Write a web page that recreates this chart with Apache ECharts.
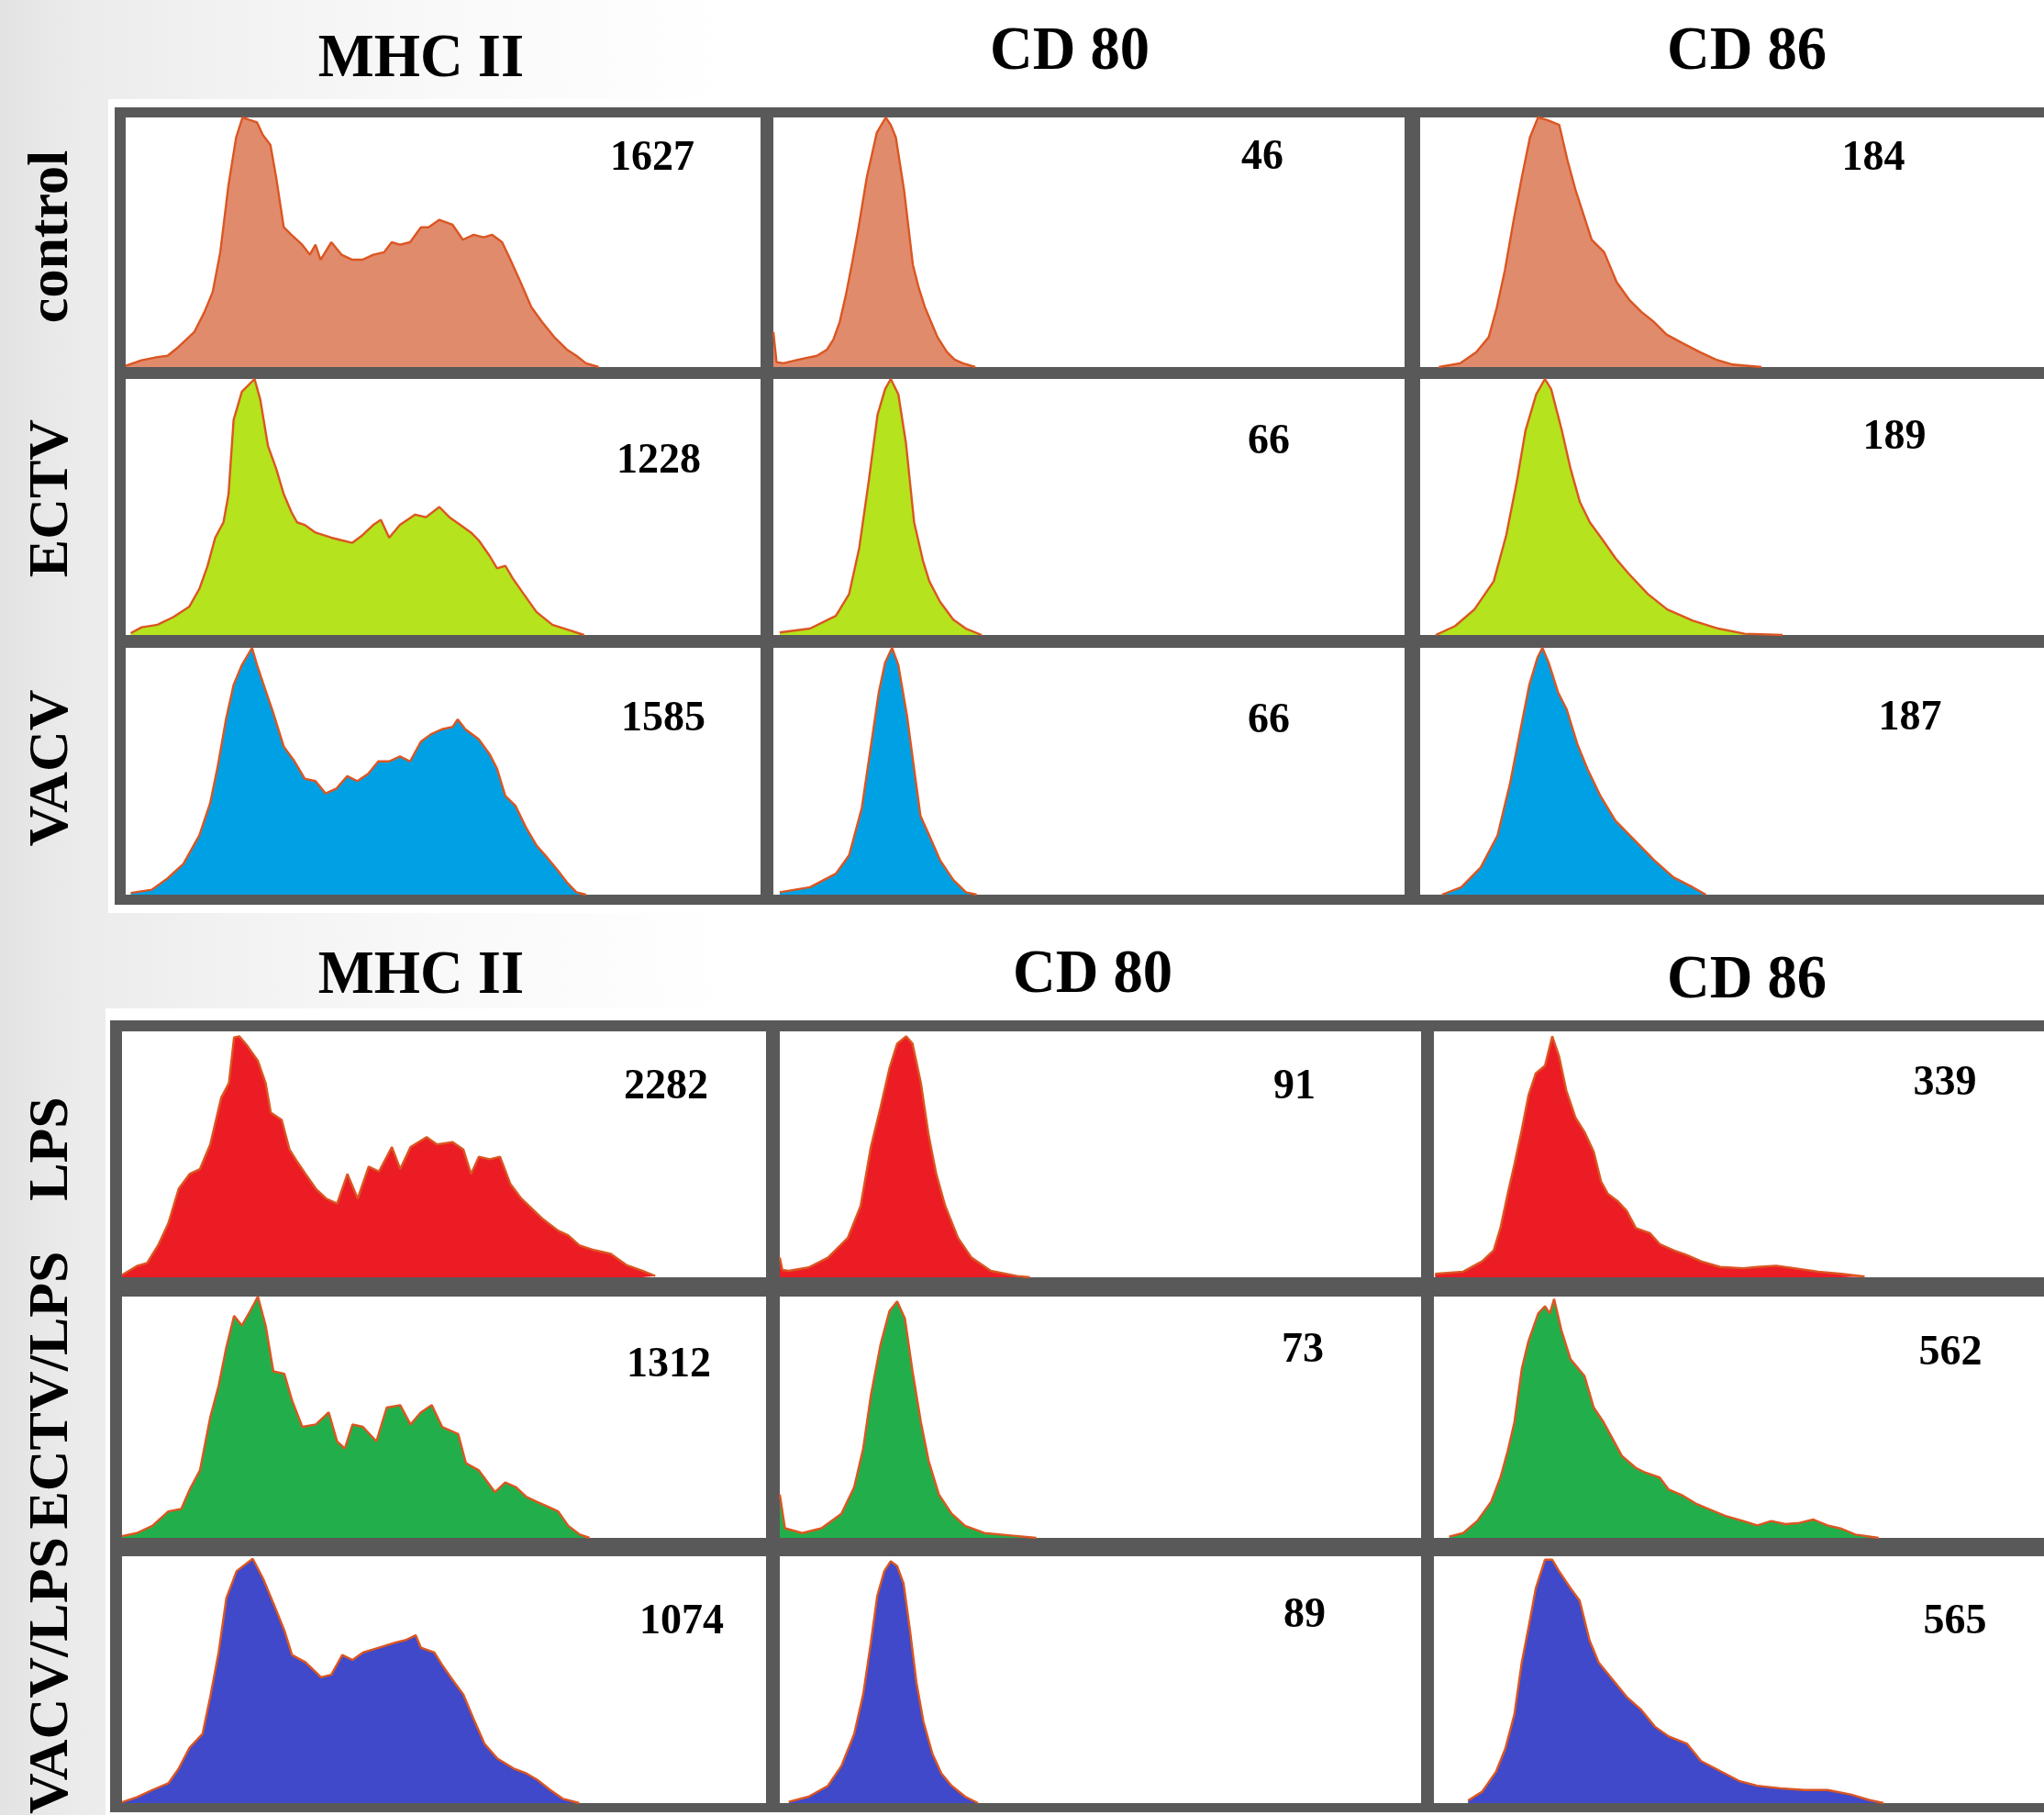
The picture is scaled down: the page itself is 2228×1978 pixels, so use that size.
<!DOCTYPE html>
<html><head><meta charset="utf-8">
<script src="https://cdn.jsdelivr.net/npm/echarts@6/dist/echarts.min.js"></script>
<style>
html,body{margin:0;padding:0;}
body{width:2228px;height:1978px;overflow:hidden;background:linear-gradient(90deg,#e3e3e3 0px,#ebebeb 80px,#f1f1f1 220px,#f9f9f9 480px,#ffffff 800px);}
#chart{width:2228px;height:1978px;}
</style></head><body><div id="chart"></div>
<script>
// ---------- labels ----------
const columnTitles = ['MHC II', 'CD 80', 'CD 86'];
const rowLabelsTop = ['control', 'ECTV', 'VACV'];
const rowLabelsBottom = ['LPS', 'ECTV/LPS', 'VACV/LPS'];
const mfiTop = [[1627, 46, 184], [1228, 66, 189], [1585, 66, 187]];
const mfiBottom = [[2282, 91, 339], [1312, 73, 562], [1074, 89, 565]];

// ---------- histogram data: [channel %, count % of max] ----------
const mhcControl = [[0,0.5],[2.5,2.7],[5,4],[6.6,4.5],[8.3,8],[10.8,14],[12.4,22],[13.7,30],[14.9,46],[16.2,73],[17.4,92],[18.4,100],[19.5,99],[20.7,98],[21.6,93],[22.8,89],[23.7,76],[24.9,56],[26.1,53],[27.8,49],[29,45],[29.9,49],[30.7,43],[32.4,50],[34,45],[35.7,43],[37.3,43],[39,45],[40.7,46],[41.9,50],[43.2,49],[44.8,50],[46.5,56],[47.7,56],[49.4,59],[51.5,57],[53.1,51],[54.8,53],[56.4,52],[57.7,53],[59.3,50],[60.6,43],[62.2,34],[63.9,24],[65.6,18],[67.5,12],[69.5,7],[71,4.5],[72.5,1.5],[74.5,0]];
const cd80Control = [[0,14],[0.5,2],[1.6,1.5],[4,3],[6.9,4.5],[8.5,7],[9.5,11],[10.5,18],[11.5,29],[12.5,42],[13.5,56],[14.8,76],[16.4,94],[17.8,100],[18.6,97],[19.4,92],[20.7,71],[22.1,41],[23,32],[24,24],[26,12],[27.5,6],[28.7,3],[30,1.5],[32,0]];
const cd86Control = [[3,0],[6.4,1.5],[9,6],[11,12],[12.3,24],[13.6,39],[15,59],[16.3,76],[17.6,92],[18.9,100],[20.3,99],[22.3,97],[23.6,83],[24.9,71],[26.2,61],[27.5,51],[29.5,46],[31.5,34],[33.5,27],[35.5,22],[37.5,18],[39.5,13],[42.1,9.5],[44.8,6],[47.4,3],[50.1,1],[54.7,0]];

const mhcECTV = [[0.8,0.7],[2.5,3],[5,4],[7.5,7],[10,11],[11.6,18],[12.9,27],[14.1,38],[15.4,44],[16.2,55],[17,84],[18.3,95],[20.3,100],[21.2,92],[22.4,74],[23.7,65],[24.9,55],[26.1,48],[27,44],[28.2,43],[29.9,40],[32.4,38],[34,37],[35.7,36],[37.3,39],[39,43],[40.2,45],[41.5,38],[43.2,43],[45.6,47],[47.3,46],[49.4,50],[51,46],[52.7,43],[54.4,40],[55.6,37],[57.3,31],[58.5,26],[59.8,27],[61,22],[62.7,16],[64.7,9],[67.2,4],[69.7,2],[72.2,0]];
const cd80ECTV = [[1,1],[5.8,2.5],[9.9,7.5],[12,16],[13.6,34],[15.1,60],[16.5,86],[17.7,96],[18.6,100],[19.8,94],[21,75],[22.3,44],[23.7,29],[24.7,21],[26.4,13],[28.5,6],[30.5,2.5],[33,0]];
const cd86ECTV = [[2.5,0],[5.6,3.5],[8.7,10],[11.8,21],[13.8,39],[15.5,60],[16.9,80],[18.6,94],[20,100],[21,96],[22.7,80],[24.1,65],[25.6,52],[27.2,44],[29.3,37],[31.3,30],[33.4,24],[36.5,16],[39.6,10],[43.7,5.6],[47.8,2.5],[52,0.5],[58.1,0]];

const mhcVACV = [[0.8,0.7],[4.1,2],[6.6,6.6],[9.1,12.5],[11.6,24],[13.3,37],[14.5,52],[15.8,71],[17,85],[18.3,93],[19.9,100],[20.7,93],[22,83],[23.2,74],[24.9,60],[26.6,54],[28.2,47],[29.9,46],[31.5,41],[33.2,43],[34.9,48],[36.5,46],[38.2,49],[39.8,54],[41.5,54],[43.2,56],[44.8,54],[46.5,62],[48.1,65],[49.8,67],[51.5,68],[52.3,71],[53.5,67],[55.6,63],[57.3,57],[58.5,51],[59.8,40],[61.4,36],[63.1,27],[64.7,20],[66.4,15],[68,10],[69.5,5],[71,1],[72.5,0]];
const cd80VACV = [[1,1],[5.8,3],[9.9,8.5],[12,16],[14,35],[15.5,61],[16.7,82],[17.7,94],[18.8,100],[19.8,93],[21.2,72],[22.3,51],[23.3,32],[24.7,24],[26.4,14],[28.5,6],[30.5,1],[32.2,0]];
const cd86VACV = [[3.5,0],[6.6,3],[9.7,11],[12.4,24],[14.4,45],[16.1,67],[17.5,85],[18.8,96],[19.6,100],[20.6,94],[22.1,82],[23.5,75],[25.2,61],[26.8,51],[28.9,40],[31.3,30],[34.4,22],[37.5,14],[40.6,7],[43.7,3],[45.8,0]];

const mhcLPS = [[0,0.9],[2.3,4.6],[3.9,5.8],[5.6,13],[7.2,22],[8.8,36],[10.5,42],[12.1,44],[13.7,54],[15.4,73],[16.6,79],[17.4,97.5],[18.2,98],[19.5,94],[21.1,88],[22.3,79],[23.1,67],[24.8,64],[26,52],[27.2,47],[28.5,42],[30.1,36],[31.7,32],[33.4,30],[35,42],[36.6,32],[38.3,45],[39.9,43],[41.9,53],[43.2,44],[44.8,53],[47.3,57],[48.9,54],[51.3,55],[53,52],[54.2,42],[55.4,49],[57.1,48],[58.7,49],[60.3,38],[62,32],[63.6,28],[65.2,24],[67.7,19],[69.3,17],[71,13],[73.4,11],[75.9,9.5],[78.3,5],[80.8,2.7],[82.8,0.5]];
const cd80LPS = [[0,8],[0.4,3],[1.4,2.6],[4.5,4],[7.5,8],[10.6,16],[12.6,29],[14.2,53],[15.7,69],[17.1,85],[18.3,95],[19.7,98],[20.7,95],[22,79],[23.2,58],[24.4,42],[25.8,29],[27.8,16],[29.9,8],[32.9,2.6],[37,0.5],[39,0]];
const cd86LPS = [[0.2,1.4],[4.8,2.3],[7.9,6.5],[9.8,11],[10.9,20],[12.1,34],[13.2,46],[14.4,60],[15.5,74],[16.7,83],[18.2,86],[19.4,98],[20.5,90],[21.7,76],[23.2,65],[24.7,59],[26.2,51],[27.4,39],[28.5,34],[30.1,31],[31.6,27],[33.1,20],[35.4,18],[37,13.5],[39.3,11],[41.5,9],[43.8,6.5],[46.9,4.2],[50.7,3.7],[53,4.2],[56.1,4.7],[59.1,3.7],[63,2.3],[66.8,1.4],[70.6,0.3]];

const mhcECTVLPS = [[0,0.7],[2.3,2],[4.7,5],[7.2,11],[9.2,12],[10.5,20],[12.1,28],[13.7,50],[15,63],[16.2,79],[17.4,92],[18.6,88],[19.9,94],[21.1,100],[22.3,88],[23.5,69],[25.2,68],[26.4,57],[28,46],[30.1,47],[32.1,52],[33.4,40],[34.6,37],[35.8,47],[37.4,46],[39.5,40],[41.1,54],[43.2,55],[44.8,47],[46.4,52],[48.1,55],[49.7,46],[52.2,43],[53.4,31],[55.4,28],[57.9,19],[59.5,23],[61.2,21],[62.8,17],[64.4,15],[66.1,13],[67.7,11],[69.3,5],[71,1.5],[72.6,0]];
const cd80ECTVLPS = [[0,18],[0.8,4],[3.5,2],[6.5,4],[9.6,10],[11.6,21],[13,37],[14.2,59],[15.7,80],[17.1,94],[18.3,98],[19.5,91],[20.7,69],[22,48],[23.2,32],[24.8,18],[26.8,10],[28.9,5],[31.9,2],[36,1],[40,0]];
const cd86ECTVLPS = [[2.5,0.5],[4.8,2],[7.1,7],[9.4,15],[10.9,25],[12.1,36],[13.2,48],[14.4,70],[15.5,81.5],[17.1,93],[18.2,96],[19,93],[19.7,99],[20.9,86],[22.4,74],[24.7,67],[26.2,54],[27.8,48],[29.3,41],[30.8,34],[33.1,29],[34.7,27],[37,25],[38.5,20],[40.8,17.5],[43.1,14],[45.4,11.6],[47.7,9.2],[50.7,7],[53,5.2],[55.3,7],[57.6,5.7],[59.9,6.2],[62.2,7.6],[64.5,5.2],[66.8,3.8],[69.1,1.4],[72.9,0]];

const mhcVACVLPS = [[0,0.3],[2.3,2.4],[4.7,5.3],[7.2,8],[8.8,14],[10.5,22.5],[12.5,28],[13.7,43],[15,61],[16.2,83],[17.8,94],[20.3,99],[21.9,91],[23.5,81],[25.2,70],[26.4,60],[28.5,57],[30.9,51],[32.5,52],[34.2,60],[35.8,58],[37.4,61],[39.9,63],[42.4,65],[44,66],[45.6,68],[46.4,63],[48.5,61],[49.7,56],[51.3,50],[53,44],[54.6,34],[56.3,24],[58.3,18],[60.8,14],[62.8,12],[64.4,9.6],[66.5,5.3],[68.5,1.7],[71,0]];
const cd80VACVLPS = [[1.4,0.5],[4.5,2.6],[7.5,7],[9.6,15],[11.6,28],[13,44],[14.2,65],[15.2,84],[16.3,94],[17.3,98],[18.3,96],[19.3,89],[20.3,70],[21.3,49],[22.4,33],[23.8,20],[25.2,12],[26.8,7],[28.9,2.6],[30.9,0]];
const cd86VACVLPS = [[5.6,1],[7.9,4.6],[10.2,12.8],[11.7,22],[13.2,36],[14.4,57],[15.5,71],[16.7,87],[18.2,98.6],[19.4,98.6],[20.5,94],[22.4,87],[23.9,82],[25.5,66],[27,57],[29.3,50],[31.6,43],[33.9,38],[36.2,31],[38.5,27],[41.5,24],[43.8,17],[46.9,13],[50,9],[53,7],[56.8,6],[60.7,5.3],[64.5,5.3],[68.3,3.5],[71.4,1.2],[73.7,0]];

// ---------- styling / layout ----------
const rowFills = ['#E18B6D', '#B5E31D', '#00A1E4', '#EC1C24', '#22AF4B', '#3F49C9'];
const outlineColor = '#DB5622';
const frameColor = '#595959';
const FONT = '"Liberation Serif","Times New Roman",serif';

const blocks = [
  { cols: [[137,692],[843,688],[1548,690]], rows: [[128,272],[413,279],[706,269]],
    frame: [125,117,2130,869], backdrop: [118,108,2130,887],
    titles: [[459,65],[1166,57],[1904,57]], labelX: 57, labelY: [258,543,837],
    labels: rowLabelsTop, mfi: mfiTop,
    mfiPos: [[[711,173],[1376,172],[2042,173]],[[718,503],[1383,482],[2065,477]],[[723,784],[1383,786],[2082,783]]],
    data: [[mhcControl,cd80Control,cd86Control],[mhcECTV,cd80ECTV,cd86ECTV],[mhcVACV,cd80VACV,cd86VACV]],
    fills: rowFills.slice(0,3) },
  { cols: [[133,702],[850,699],[1563,690]], rows: [[1124,268],[1413,263],[1696,269]],
    frame: [120,1112,2130,863], backdrop: [115,1099,2130,900],
    titles: [[459,1064],[1191,1063],[1904,1069]], labelX: 57, labelY: [1252,1515,1826],
    labels: rowLabelsBottom, mfi: mfiBottom,
    mfiPos: [[[726,1185],[1411,1185],[2120,1181]],[[729,1488],[1420,1472],[2126,1475]],[[743,1768],[1422,1761],[2131,1768]]],
    data: [[mhcLPS,cd80LPS,cd86LPS],[mhcECTVLPS,cd80ECTVLPS,cd86ECTVLPS],[mhcVACVLPS,cd80VACVLPS,cd86VACVLPS]],
    fills: rowFills.slice(3,6) }
];

const grid = [], xAxis = [], yAxis = [], series = [], graphic = [];
blocks.forEach(b => {
  graphic.push({ type:'rect', z:-3, shape:{x:b.backdrop[0], y:b.backdrop[1], width:b.backdrop[2], height:b.backdrop[3]}, style:{fill:'#ffffff'} });
  graphic.push({ type:'rect', z:-2, shape:{x:b.frame[0], y:b.frame[1], width:b.frame[2], height:b.frame[3]}, style:{fill:frameColor} });
  b.titles.forEach((p, c) => {
    graphic.push({ type:'text', z:10, x:p[0], y:p[1], scaleX:0.95, style:{ text:columnTitles[c], font:'bold 68px ' + FONT, fill:'#000', textAlign:'center', textVerticalAlign:'middle', align:'center', verticalAlign:'middle' } });
  });
  b.labels.forEach((t, r) => {
    graphic.push({ type:'text', z:10, x:b.labelX, y:b.labelY[r], rotation:Math.PI/2, style:{ text:t, font:'bold 62px ' + FONT, fill:'#000', textAlign:'center', textVerticalAlign:'middle', align:'center', verticalAlign:'middle' } });
  });
  b.rows.forEach((row, r) => {
    b.cols.forEach((col, c) => {
      const i = grid.length;
      graphic.push({ type:'rect', z:-1, shape:{x:col[0], y:row[0], width:col[1], height:row[1]}, style:{fill:'#ffffff'} });
      grid.push({ left:col[0], top:row[0], width:col[1], height:row[1], containLabel:false, show:false });
      xAxis.push({ type:'value', gridIndex:i, min:0, max:100, show:false });
      yAxis.push({ type:'value', gridIndex:i, min:0, max:100, show:false });
      series.push({ type:'line', xAxisIndex:i, yAxisIndex:i, data:b.data[r][c], symbol:'none', showSymbol:false, silent:true,
        lineStyle:{ color:outlineColor, width:2.4 }, areaStyle:{ color:b.fills[r], opacity:1 } });
      const p = b.mfiPos[r][c];
      graphic.push({ type:'text', z:10, x:p[0], y:p[1], style:{ text:String(b.mfi[r][c]), font:'bold 46px ' + FONT, fill:'#000', textAlign:'center', textVerticalAlign:'middle', align:'center', verticalAlign:'middle' } });
    });
  });
});

const chart = echarts.init(document.getElementById('chart'), null, { renderer:'canvas', width:2228, height:1978 });
chart.setOption({ animation:false, backgroundColor:'transparent', grid, xAxis, yAxis, series, graphic });
</script></body></html>
